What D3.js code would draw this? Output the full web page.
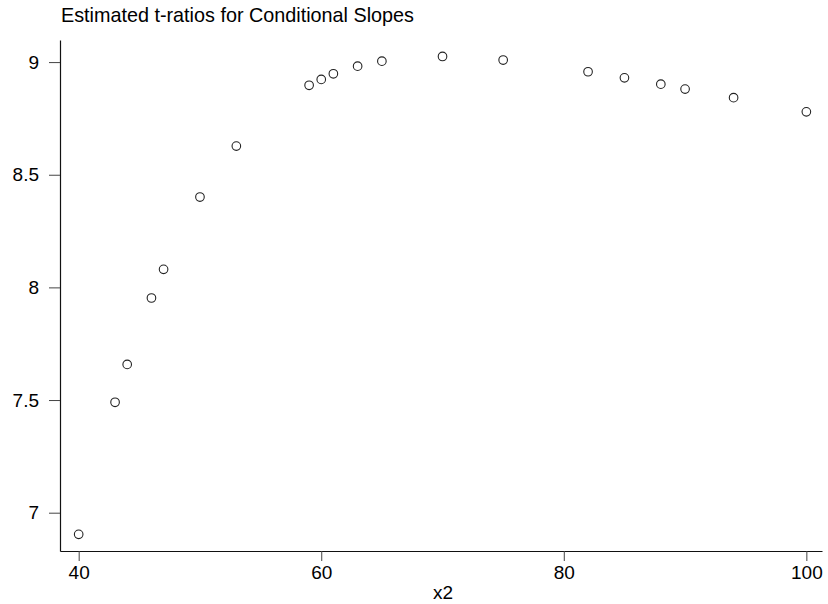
<!DOCTYPE html>
<html>
<head>
<meta charset="utf-8">
<script src="https://cdn.jsdelivr.net/npm/d3@7"></script>
<style>
  body { margin: 0; background: #fff; }
  text { font-family: "Liberation Sans", Arial, sans-serif; fill: #000; }
</style>
</head>
<body>
<div id="chart"></div>
<script>
// data
const x2 = [40, 43, 44, 46, 47, 50, 53, 59, 60, 61, 63, 65, 70, 75, 82, 85, 88, 90, 94, 100];
const tRatio = [6.904, 7.490, 7.658, 7.953, 8.080, 8.401, 8.627, 8.897, 8.923, 8.948,
                8.982, 9.004, 9.025, 9.009, 8.957, 8.930, 8.902, 8.880, 8.842, 8.779];
const xTicks = [40, 60, 80, 100];
const yTicks = [7, 7.5, 8, 8.5, 9];

const width = 828, height = 604;
const plot = {left: 60, right: 822, top: 40, bottom: 551};

const svg = d3.select("#chart").append("svg")
    .attr("width", width)
    .attr("height", height);

const x = d3.scaleLinear().domain([38.46, 101.29]).range([plot.left, plot.right]);
const y = d3.scaleLinear().domain([6.83, 9.098]).range([plot.bottom, plot.top]);

// title
svg.append("text")
    .attr("x", 61)
    .attr("y", 22)
    .style("font-size", "19.8px")
    .text("Estimated t-ratios for Conditional Slopes");

// axes
const xAxis = svg.append("g")
    .attr("transform", `translate(0,${plot.bottom})`)
    .call(d3.axisBottom(x).tickValues(xTicks).tickFormat(d3.format("d"))
      .tickSize(10).tickSizeOuter(0).tickPadding(5));

const yAxis = svg.append("g")
    .attr("transform", `translate(${plot.left},0)`)
    .call(d3.axisLeft(y).tickValues(yTicks).tickFormat(d => d)
      .tickSize(11).tickSizeOuter(0).tickPadding(10));

[xAxis, yAxis].forEach(a => {
  a.select(".domain").attr("stroke", "#111").attr("stroke-width", 1.2);
  a.selectAll(".tick line").attr("stroke", "#444").attr("stroke-width", 1);
  a.selectAll(".tick text")
      .style("font-family", '"Liberation Sans", Arial, sans-serif')
      .style("font-size", "19px")
      .attr("fill", "#000");
});

// x label
svg.append("text")
    .attr("x", (plot.left + plot.right) / 2 + 2)
    .attr("y", 599)
    .attr("text-anchor", "middle")
    .style("font-size", "19px")
    .text("x2");

// points
svg.append("g")
  .selectAll("circle")
  .data(x2.map((d, i) => ({x: d, y: tRatio[i]})))
  .enter().append("circle")
    .attr("cx", d => x(d.x))
    .attr("cy", d => y(d.y))
    .attr("r", 4.3)
    .attr("fill", "none")
    .attr("stroke", "#222")
    .attr("stroke-width", 1.1);
</script>
</body>
</html>
